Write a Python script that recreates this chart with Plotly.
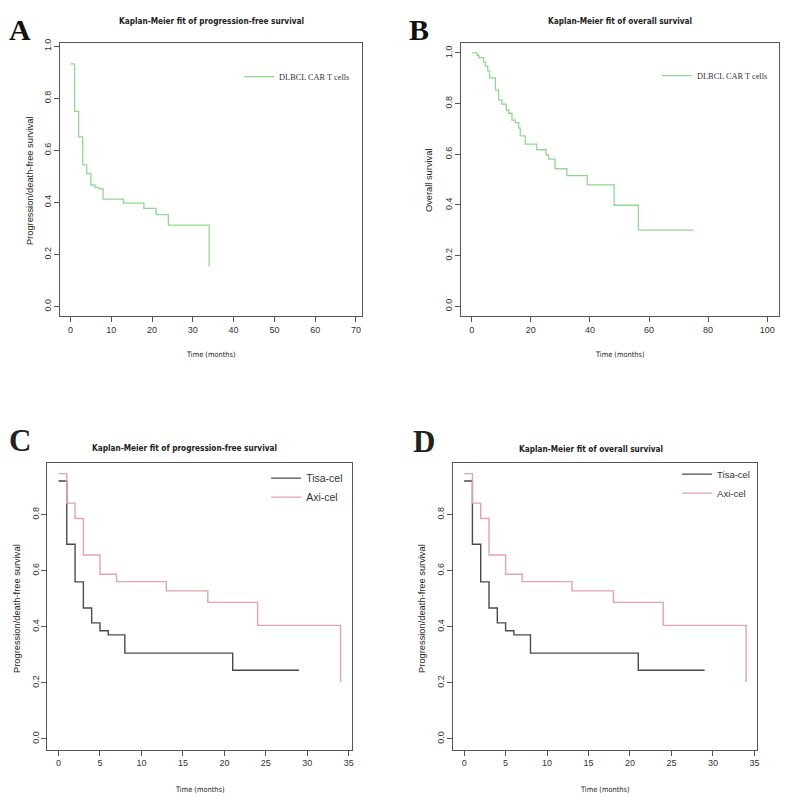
import plotly.graph_objects as go
from plotly.subplots import make_subplots

# A: progression-free survival, whole cohort
pfs_time = [0, 1, 2, 3, 4, 5, 6, 7, 8, 13, 18, 21, 24, 34]
pfs_surv = [0.932, 0.750, 0.652, 0.544, 0.511, 0.467, 0.458, 0.452, 0.413, 0.397, 0.377, 0.353, 0.313, 0.155]

# B: overall survival, whole cohort
os_time = [0, 1.8, 2.4, 4.0, 4.6, 5.4, 6.0, 8.0, 9.1, 10.2, 11.7, 12.5, 13.6, 14.7, 15.9, 16.4,
           18.1, 22.0, 25.1, 26.0, 28.2, 32.2, 39.1, 48.2, 56.4, 75]
os_surv = [1.0, 0.991, 0.982, 0.965, 0.949, 0.929, 0.902, 0.853, 0.814, 0.798, 0.775, 0.762, 0.735,
           0.725, 0.703, 0.673, 0.640, 0.618, 0.598, 0.581, 0.543, 0.516, 0.479, 0.399, 0.301, 0.301]

# C: progression-free survival by product
c_tisa_time = [0, 1, 2, 3, 4, 5, 6, 8, 21, 29]
c_tisa_surv = [0.920, 0.694, 0.560, 0.467, 0.414, 0.386, 0.371, 0.306, 0.245, 0.245]
c_axi_time = [0, 1, 2, 3, 5, 7, 13, 18, 24, 34]
c_axi_surv = [0.946, 0.841, 0.786, 0.656, 0.587, 0.561, 0.528, 0.487, 0.405, 0.203]

# D: overall survival by product (same curves as printed in the figure)
d_tisa_time = [0, 1, 2, 3, 4, 5, 6, 8, 21, 29]
d_tisa_surv = [0.920, 0.694, 0.560, 0.467, 0.414, 0.386, 0.371, 0.306, 0.245, 0.245]
d_axi_time = [0, 1, 2, 3, 5, 7, 13, 18, 24, 34]
d_axi_surv = [0.946, 0.841, 0.786, 0.656, 0.587, 0.561, 0.528, 0.487, 0.405, 0.203]

# page is 789x802 but the browser body keeps its 8px margin,
# so the figure is 8px smaller and every page position is shifted by 8
W, H = 789, 802
OFF = 8
FW, FH = W - OFF, H - OFF
GREEN = '#8fd98f'
GREY = '#4a4a4a'
PINK = '#e3a3ae'
SANS = 'Liberation Sans, Arial, sans-serif'
COND = 'DejaVu Sans Condensed, Liberation Sans, sans-serif'
SERIF = 'Liberation Serif, Times New Roman, serif'


def px(x):
    return (x - OFF) / FW


def py(y):
    return 1 - (y - OFF) / FH


fig = make_subplots(rows=2, cols=2)

fig.add_trace(go.Scatter(x=pfs_time, y=pfs_surv, mode='lines', line=dict(color=GREEN, width=1.3, shape='hv'),
                         name='DLBCL CAR T cells', legend='legend'), row=1, col=1)
fig.add_trace(go.Scatter(x=os_time, y=os_surv, mode='lines', line=dict(color=GREEN, width=1.3, shape='hv'),
                         name='DLBCL CAR T cells', legend='legend2'), row=1, col=2)
fig.add_trace(go.Scatter(x=c_tisa_time, y=c_tisa_surv, mode='lines', line=dict(color=GREY, width=1.4, shape='hv'),
                         name='Tisa-cel', legend='legend3'), row=2, col=1)
fig.add_trace(go.Scatter(x=c_axi_time, y=c_axi_surv, mode='lines', line=dict(color=PINK, width=1.4, shape='hv'),
                         name='Axi-cel', legend='legend3'), row=2, col=1)
fig.add_trace(go.Scatter(x=d_tisa_time, y=d_tisa_surv, mode='lines', line=dict(color=GREY, width=1.4, shape='hv'),
                         name='Tisa-cel', legend='legend4'), row=2, col=2)
fig.add_trace(go.Scatter(x=d_axi_time, y=d_axi_surv, mode='lines', line=dict(color=PINK, width=1.4, shape='hv'),
                         name='Axi-cel', legend='legend4'), row=2, col=2)

# panel boxes (page pixels: left, right, top, bottom) and axis ranges
panels = [
    dict(row=1, col=1, box=(60, 363, 39, 314), xr=[-2.6, 71.5], yr=[-0.038, 1.013], xd=10, yt=[0, 0.2, 0.4, 0.6, 0.8, 1.0]),
    dict(row=1, col=2, box=(461.7, 781, 39, 314), xr=[-3.8, 104], yr=[-0.04, 1.04], xd=20, yt=[0, 0.2, 0.4, 0.6, 0.8, 1.0]),
    dict(row=2, col=1, box=(47.3, 352.7, 461, 749.3), xr=[-1.36, 35.36], yr=[-0.038, 0.985], xd=5, yt=[0, 0.2, 0.4, 0.6, 0.8]),
    dict(row=2, col=2, box=(454, 759.3, 461, 749.3), xr=[-1.36, 35.36], yr=[-0.038, 0.985], xd=5, yt=[0, 0.2, 0.4, 0.6, 0.8]),
]
for p in panels:
    l, r, t, b = p['box']
    fig.update_xaxes(domain=[px(l), px(r)], range=p['xr'], dtick=p['xd'], tick0=0,
                     showline=True, mirror=True, linecolor='#555555', linewidth=1,
                     ticks='outside', ticklen=5, tickcolor='#555555', showgrid=False, zeroline=False,
                     tickfont=dict(family=SANS, size=9, color='#333333'), row=p['row'], col=p['col'])
    fig.update_yaxes(domain=[py(b), py(t)], range=p['yr'], tickvals=p['yt'], tickformat='.1f',
                     showline=True, mirror=True, linecolor='#555555', linewidth=1,
                     ticks='outside', ticklen=5, tickcolor='#555555', showgrid=False, zeroline=False,
                     tickangle=-90, ticklabelstandoff=-1, tickfont=dict(family=SANS, size=9, color='#333333'),
                     row=p['row'], col=p['col'])

# panel letters A and B hang from the top edge of the figure
for letter, x in [('A', 20), ('B', 420)]:
    fig.add_annotation(text=f'<b>{letter}</b>', x=px(x), y=1, xref='paper', yref='paper',
                       showarrow=False, xanchor='center', yanchor='top', borderpad=0,
                       font=dict(family=SERIF, size=30, color='#111111'))

texts = [
    # (text, x px, y px, size, family, angle)
    ('<b>C</b>', 20, 439, 31, SERIF, 0),
    ('<b>D</b>', 425, 440, 31, SERIF, 0),
    ('<b>Kaplan-Meier fit of progression-free survival</b>', 212, 17, 8.2, COND, 0),
    ('<b>Kaplan-Meier fit of overall survival</b>', 622, 17, 8.2, COND, 0),
    ('<b>Kaplan-Meier fit of progression-free survival</b>', 185, 446, 8.2, COND, 0),
    ('<b>Kaplan-Meier fit of overall survival</b>', 592, 447, 8.2, COND, 0),
    ('Time (months)', 212, 352, 7.4, COND, 0),
    ('Time (months)', 622, 352, 7.4, COND, 0),
    ('Time (months)', 200, 789, 7.4, COND, 0),
    ('Time (months)', 607, 789, 7.4, COND, 0),
    ('Progression/death-free survival', 30, 177, 9.3, SANS, -90),
    ('Overall survival', 430, 177, 9.3, SANS, -90),
    ('Progression/death-free survival', 17, 607, 9.3, SANS, -90),
    ('Progression/death-free survival', 423, 607, 9.3, SANS, -90),
]
for txt, x, y, size, fam, ang in texts:
    fig.add_annotation(text=txt, x=px(x), y=py(y), xref='paper', yref='paper', showarrow=False,
                       xanchor='center', yanchor='middle', textangle=ang,
                       font=dict(family=fam, size=size, color='#222222'))

legend_common = dict(bgcolor='rgba(0,0,0,0)', borderwidth=0, itemwidth=30, tracegroupgap=0)
fig.update_layout(
    width=FW, height=FH,
    margin=dict(l=0, r=0, t=0, b=0),
    paper_bgcolor='white', plot_bgcolor='white',
    showlegend=True,
    legend=dict(x=px(356), y=py(73), xanchor='right', yanchor='middle',
                font=dict(family=SERIF, size=8.3, color='#333333'), **legend_common),
    legend2=dict(x=px(775), y=py(72), xanchor='right', yanchor='middle',
                 font=dict(family=SERIF, size=8.3, color='#333333'), **legend_common),
    legend3=dict(x=px(349), y=py(486), xanchor='right', yanchor='middle',
                 font=dict(family=SANS, size=10.5, color='#333333'), **legend_common),
    legend4=dict(x=px(757), y=py(482), xanchor='right', yanchor='middle',
                 font=dict(family=SANS, size=9.5, color='#333333'), **legend_common),
)

fig.write_html("out.html")
